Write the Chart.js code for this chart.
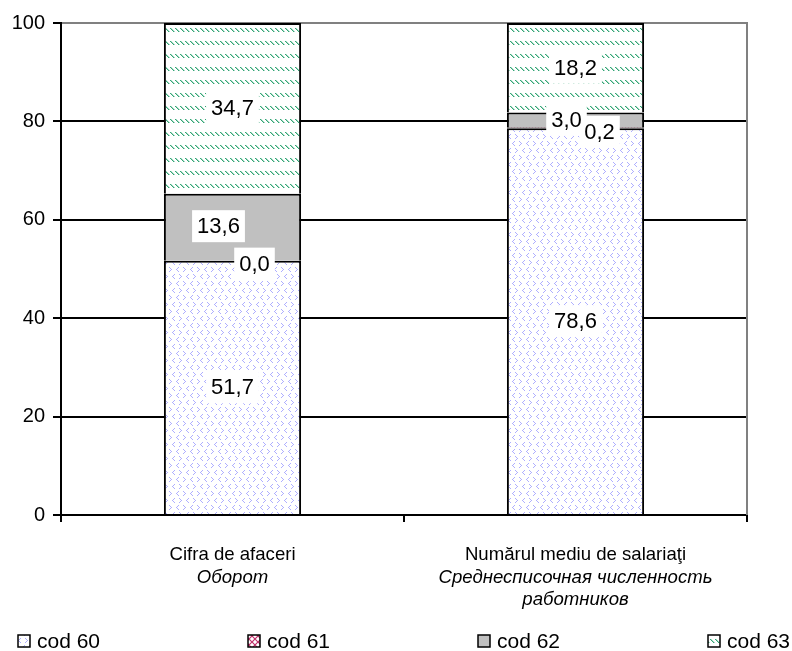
<!DOCTYPE html>
<html>
<head>
<meta charset="utf-8">
<script src="https://cdn.jsdelivr.net/npm/chart.js@4/dist/chart.umd.min.js"></script>
<style>
  html, body { margin: 0; padding: 0; background: #fff; }
  #wrap { width: 792px; height: 651px; position: relative; }
</style>
</head>
<body>
<div id="wrap"><canvas id="c" width="792" height="651"></canvas></div>
<script>
// ---- data ----
const categories = [
  ["Cifra de afaceri", "Оборот"],
  ["Numărul mediu de salariaţi", "Среднесписочная численность", "работников"]
];
const seriesNames = ["cod 60", "cod 61", "cod 62", "cod 63"];
const cod60 = [51.7, 78.6];
const cod61 = [0.0, 0.2];
const cod62 = [13.6, 3.0];
const cod63 = [34.7, 18.2];
const yTicks = [0, 20, 40, 60, 80, 100];

// ---- layout (label offsets in px, legend positions) ----
const labelOffsets = [
  [[0, 0], [0, 0]],
  [[22, 3], [24, 4]],
  [[-14, -1], [-9, 0]],
  [[0, 0], [0, 0]]
];
const legendX = [18, 248, 478, 708];
const legendY = 641;
const FONT = '"Liberation Sans", Arial, sans-serif';

// ---- patterns ----
function makePattern(w, h, draw) {
  const c = document.createElement('canvas');
  c.width = w; c.height = h;
  const g = c.getContext('2d');
  g.fillStyle = '#fff';
  g.fillRect(0, 0, w, h);
  draw(g);
  return g.createPattern(c, 'repeat');
}
function px(g, pts, color) {
  g.fillStyle = color;
  pts.forEach(p => g.fillRect(p[0], p[1], 1, 1));
}
function chevR(x, y) { return [[x, y], [x + 1, y + 1], [x + 2, y + 2], [x + 1, y + 3], [x, y + 4]]; }
function chevL(x, y) { return [[x + 2, y], [x + 1, y + 1], [x, y + 2], [x + 1, y + 3], [x + 2, y + 4]]; }

const pat60 = makePattern(14, 14, g => {
  const col = 'rgba(120,120,255,0.6)';
  px(g, chevR(1, 1), col);
  px(g, chevL(8, 1), col);
  px(g, chevL(4, 8), col);
  px(g, chevR(11, 8), col);
});
const pat61 = makePattern(6, 6, g => {
  g.strokeStyle = '#c0306a';
  g.lineWidth = 1.2;
  g.beginPath();
  g.moveTo(0, 0); g.lineTo(6, 6);
  g.moveTo(6, 0); g.lineTo(0, 6);
  g.stroke();
});
const pat62 = '#c0c0c0';
const pat63 = makePattern(5, 13, g => {
  px(g, [[0, 2], [1, 3], [2, 4], [3, 5]], 'rgba(40,160,110,0.95)');
  px(g, [[1, 2], [2, 3], [3, 4], [4, 5]], 'rgba(40,160,110,0.4)');
});
const fills = [pat60, pat61, pat62, pat63];
const seriesData = [cod60, cod61, cod62, cod63];

// ---- plugins ----
const fmt = v => v.toFixed(1).replace('.', ',');

const extras = {
  id: 'extras',
  afterDatasetsDraw(chart) {
    const ctx = chart.ctx;
    const ca = chart.chartArea;
    // right border of plot area
    ctx.save();
    ctx.strokeStyle = '#808080';
    ctx.lineWidth = 2;
    ctx.beginPath();
    ctx.moveTo(ca.right, ca.top - 1);
    ctx.lineTo(ca.right, ca.bottom);
    ctx.stroke();
    ctx.restore();

    // data labels
    ctx.save();
    ctx.font = '22px ' + FONT;
    ctx.textAlign = 'center';
    ctx.textBaseline = 'middle';
    const pos = [];
    chart.data.datasets.forEach((ds, i) => {
      const meta = chart.getDatasetMeta(i);
      meta.data.forEach((el, j) => {
        const off = labelOffsets[i][j];
        pos.push({
          x: el.x + off[0],
          y: (el.y + el.base) / 2 + off[1],
          t: fmt(ds.data[j])
        });
      });
    });
    pos.forEach(p => {
      const w = ctx.measureText(p.t).width;
      ctx.fillStyle = '#fff';
      ctx.fillRect(p.x - w / 2 - 5, p.y - 16, w + 10, 32);
    });
    ctx.fillStyle = '#000';
    pos.forEach(p => ctx.fillText(p.t, p.x, p.y + 1));
    ctx.restore();
  },
  afterDraw(chart) {
    const ctx = chart.ctx;
    const xs = chart.scales.x;
    // category labels
    ctx.save();
    ctx.fillStyle = '#000';
    ctx.textAlign = 'center';
    ctx.textBaseline = 'middle';
    categories.forEach((lines, j) => {
      const x = xs.getPixelForValue(j);
      lines.forEach((ln, k) => {
        ctx.font = (k === 0 ? '' : 'italic ') + '18.6px ' + FONT;
        ctx.fillText(ln, x, 555 + k * 22.5);
      });
    });
    // legend
    ctx.font = '21px ' + FONT;
    ctx.textAlign = 'left';
    seriesNames.forEach((name, i) => {
      const bx = legendX[i];
      ctx.fillStyle = fills[i];
      ctx.fillRect(bx, legendY - 6, 12, 12);
      ctx.strokeStyle = '#000';
      ctx.lineWidth = 1.5;
      ctx.strokeRect(bx, legendY - 6, 12, 12);
      ctx.fillStyle = '#000';
      ctx.fillText(name, bx + 19, legendY + 1);
    });
    ctx.restore();
  }
};

new Chart(document.getElementById('c'), {
  type: 'bar',
  data: {
    labels: categories.map(c => c.join(' ')),
    datasets: seriesNames.map((n, i) => ({
      label: n,
      data: seriesData[i],
      backgroundColor: fills[i],
      borderColor: '#000',
      borderWidth: { top: 2, left: 2, right: 2, bottom: 0 },
      borderSkipped: false,
      barPercentage: 0.4,
      categoryPercentage: 1.0
    }))
  },
  options: {
    responsive: false,
    animation: false,
    layout: { padding: { top: 23, right: 45, left: 0, bottom: 0 } },
    plugins: { legend: { display: false }, tooltip: { enabled: false } },
    scales: {
      x: {
        stacked: true,
        offset: true,
        ticks: { display: false },
        grid: { display: true, drawOnChartArea: false, drawTicks: true, tickLength: 7, offset: true, color: '#000', lineWidth: 2 },
        border: { display: true, color: '#000', width: 2 },
        afterFit(s) { s.height = 136; }
      },
      y: {
        stacked: true,
        min: 0, max: 100,
        afterBuildTicks(s) { s.ticks = yTicks.map(v => ({ value: v })); },
        ticks: { color: '#000', font: { size: 20, family: FONT }, padding: 8 },
        grid: {
          color: c => (c.tick && c.tick.value === 100) ? '#808080' : '#000',
          tickColor: '#000',
          lineWidth: 2,
          tickLength: 8
        },
        border: { display: true, color: '#000', width: 2 },
        afterFit(s) { s.width = 61; }
      }
    }
  },
  plugins: [extras]
});
</script>
</body>
</html>
